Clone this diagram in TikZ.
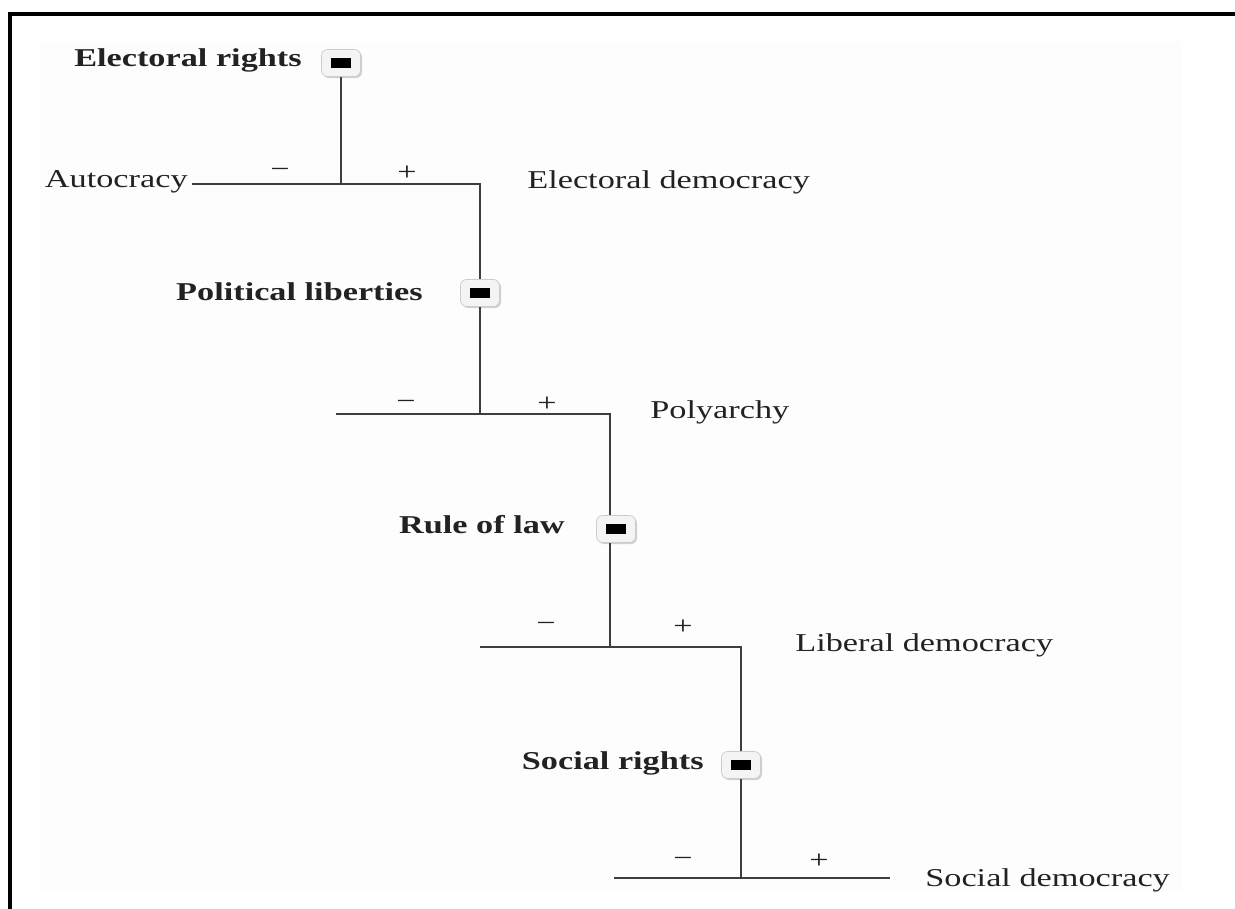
\documentclass[tikz,border=0pt]{standalone}
\usepackage[RGB]{xcolor}
\usepackage{graphicx}
\usepackage{fontspec}
\setmainfont{Liberation Serif}
\usetikzlibrary{shadows}
\definecolor{inkgray}{RGB}{34,34,34}
\definecolor{linegray}{RGB}{62,62,62}
\definecolor{paper}{RGB}{253,253,253}
\definecolor{knobfill}{RGB}{244,244,244}
\newcommand{\squash}[1]{\scalebox{1}[0.75]{#1}}
\newcommand{\knob}{\rule{0.4cm}{0.2cm}}
\tikzset{
  factor/.style={inner sep=0pt, text=inkgray, font=\fontsize{19.5}{23}\selectfont\bfseries},
  regime/.style={inner sep=0pt, text=inkgray, font=\fontsize{19.5}{23}\selectfont},
  sign/.style={inner sep=0pt, text=inkgray, font=\fontsize{19.5}{23}\selectfont},
  toggle/.style={draw=black!20, fill=knobfill, rounded corners=3.5pt, minimum width=0.78cm,
    minimum height=0.54cm, inner sep=0pt,
    drop shadow={shadow xshift=0.9pt, shadow yshift=-0.9pt, opacity=0.35}},
  wire/.style={draw=linegray, line width=1.3pt},
}

\begin{document}
\begin{tikzpicture}[x=0.02cm, y=-0.02cm]
\useasboundingbox (0,0) rectangle (1235,909);
\fill[paper] (40,42) rectangle (1182,892);
\draw[line width=2pt] (10,909)--(10,14)--(1235,14);

% electoral rights
\node[factor, anchor=base east] (ertext) at (302,67) {\squash{Electoral rights}};
\node[toggle] (er) at (341,63) {\knob};
\coordinate (er-l) at (192,184);
\coordinate (er-j) at (341,184);
\coordinate (er-r) at (480,184);
\node[regime, anchor=base east] (auto) at (188,188) {\squash{Autocracy}};
\node[regime, anchor=base west] (edem) at (527,189) {\squash{Electoral democracy}};
\node[sign] (er-minus) at (280,173) {\squash{−}};
\node[sign] (er-plus) at (407,173) {\squash{+}};

% political liberties
\node[factor, anchor=base east] (pltext) at (423,300) {\squash{Political liberties}};
\node[toggle] (pl) at (480,293) {\knob};
\coordinate (pl-l) at (336,414);
\coordinate (pl-j) at (480,414);
\coordinate (pl-r) at (610,414);
\node[regime, anchor=base west] (poly) at (650,418) {\squash{Polyarchy}};
\node[sign] (pl-minus) at (406,405) {\squash{−}};
\node[sign] (pl-plus) at (547,404) {\squash{+}};

% rule of law
\node[factor, anchor=base east] (rltext) at (565,533) {\squash{Rule of law}};
\node[toggle] (rl) at (616,529) {\knob};
\coordinate (rl-l) at (480,647);
\coordinate (rl-j) at (610,647);
\coordinate (rl-r) at (741,647);
\node[regime, anchor=base west] (ldem) at (795,651) {\squash{Liberal democracy}};
\node[sign] (rl-minus) at (546,627) {\squash{−}};
\node[sign] (rl-plus) at (683,627) {\squash{+}};

% social rights
\node[factor, anchor=base east] (srtext) at (704,769) {\squash{Social rights}};
\node[toggle] (sr) at (741,765) {\knob};
\coordinate (sr-l) at (614,878);
\coordinate (sr-j) at (741,878);
\coordinate (sr-r) at (890,878);
\node[regime, anchor=base west] (sdem) at (925,886) {\squash{Social democracy}};
\node[sign] (sr-minus) at (683,862) {\squash{−}};
\node[sign] (sr-plus) at (819,861) {\squash{+}};

\draw[wire] (er-j |- er.south) -- (er-j);
\draw[wire] (er-l) -- (er-r) -- (er-r |- pl.north);
\draw[wire] (pl-j |- pl.south) -- (pl-j);
\draw[wire] (pl-l) -- (pl-r) -- (pl-r |- rl.north);
\draw[wire] (rl-j |- rl.south) -- (rl-j);
\draw[wire] (rl-l) -- (rl-r) -- (rl-r |- sr.north);
\draw[wire] (sr-j |- sr.south) -- (sr-j);
\draw[wire] (sr-l) -- (sr-r);
\end{tikzpicture}
\end{document}
